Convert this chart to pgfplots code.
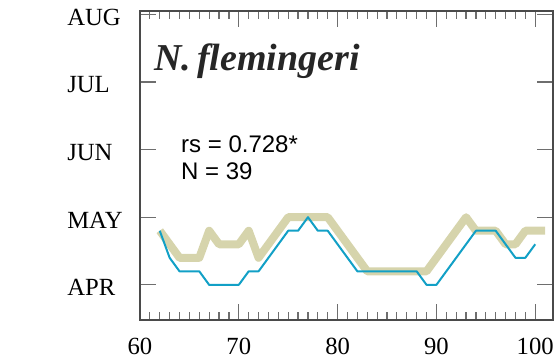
\documentclass[border=0pt]{standalone}
\usepackage{pgfplots}
\pgfplotsset{compat=1.18}
\usepackage{fontspec}
\setmainfont{Liberation Serif}
\newfontfamily\arialfont{Liberation Sans}
\definecolor{bluel}{HTML}{12A0C6}
\definecolor{khaki}{HTML}{D6D4AC}
\definecolor{axgray}{HTML}{4A4A4A}
\begin{document}
\begin{tikzpicture}
\begin{axis}[
  scale only axis,
  width=309.75pt, height=231.75pt,
  xmin=60, xmax=101.8,
  ymin=3.48, ymax=8.05,
  xtick={60,70,80,90,100},
  minor x tick num=9,
  ytick={4,5,6,7,8},
  yticklabels={APR,MAY,JUN,JUL,AUG},
  tick align=inside,
  major tick length=12pt,
  minor tick length=6pt,
  axis line style={axgray, line width=1.2pt},
  every tick/.style={axgray!80, line width=0.9pt},
  tick label style={font=\fontsize{18.5}{20}\selectfont},
  /pgf/number format/assume math mode=true,
  yticklabel style={anchor=west, inner sep=0pt, xshift=-54.75pt, yshift=-2pt},
  xticklabel style={yshift=-10pt},
  clip=false,
]
\addplot[khaki, line width=6pt, line join=round] coordinates {
(62,4.8)(63,4.6)(64,4.4)(65,4.4)(66,4.4)(67,4.8)(68,4.6)(69,4.6)(70,4.6)(71,4.8)(72,4.4)(73,4.6)(74,4.8)(75,5.0)(76,5.0)(77,5.0)(78,5.0)(79,5.0)(80,4.8)(81,4.6)(82,4.4)(83,4.2)(84,4.2)(85,4.2)(86,4.2)(87,4.2)(88,4.2)(89,4.2)(90,4.4)(91,4.6)(92,4.8)(93,5.0)(94,4.8)(95,4.8)(96,4.8)(97,4.6)(98,4.6)(99,4.8)(100,4.8)(101,4.8)
};
\addplot[bluel, line width=1.5pt, line join=round] coordinates {
(62,4.8)(63,4.4)(64,4.2)(65,4.2)(66,4.2)(67,4.0)(68,4.0)(69,4.0)(70,4.0)(71,4.2)(72,4.2)(73,4.4)(74,4.6)(75,4.8)(76,4.8)(77,5.0)(78,4.8)(79,4.8)(80,4.6)(81,4.4)(82,4.2)(83,4.2)(84,4.2)(85,4.2)(86,4.2)(87,4.2)(88,4.2)(89,4.0)(90,4.0)(91,4.2)(92,4.4)(93,4.6)(94,4.8)(95,4.8)(96,4.8)(97,4.6)(98,4.4)(99,4.4)(100,4.6)
};
\node[anchor=base west, inner sep=0pt, font=\fontsize{28.5}{30}\selectfont\bfseries\itshape, text=black!85] at (axis cs:61.4,7.173) {N.\,flemingeri};
\node[anchor=base west, inner sep=0pt, font=\arialfont\fontsize{18}{20}\selectfont] at (axis cs:64.14,5.956) {rs = 0.728*};
\node[anchor=base west, inner sep=0pt, font=\arialfont\fontsize{18}{20}\selectfont] at (axis cs:64.14,5.556) {N = 39};
\coordinate (sw) at (rel axis cs:0,0);
\coordinate (ne) at (rel axis cs:1,1);
\end{axis}
\pgfresetboundingbox
\path ([shift={(-105pt,-30pt)}]sw) rectangle ([shift={(1.5pt,8.25pt)}]ne);
\end{tikzpicture}
\end{document}
